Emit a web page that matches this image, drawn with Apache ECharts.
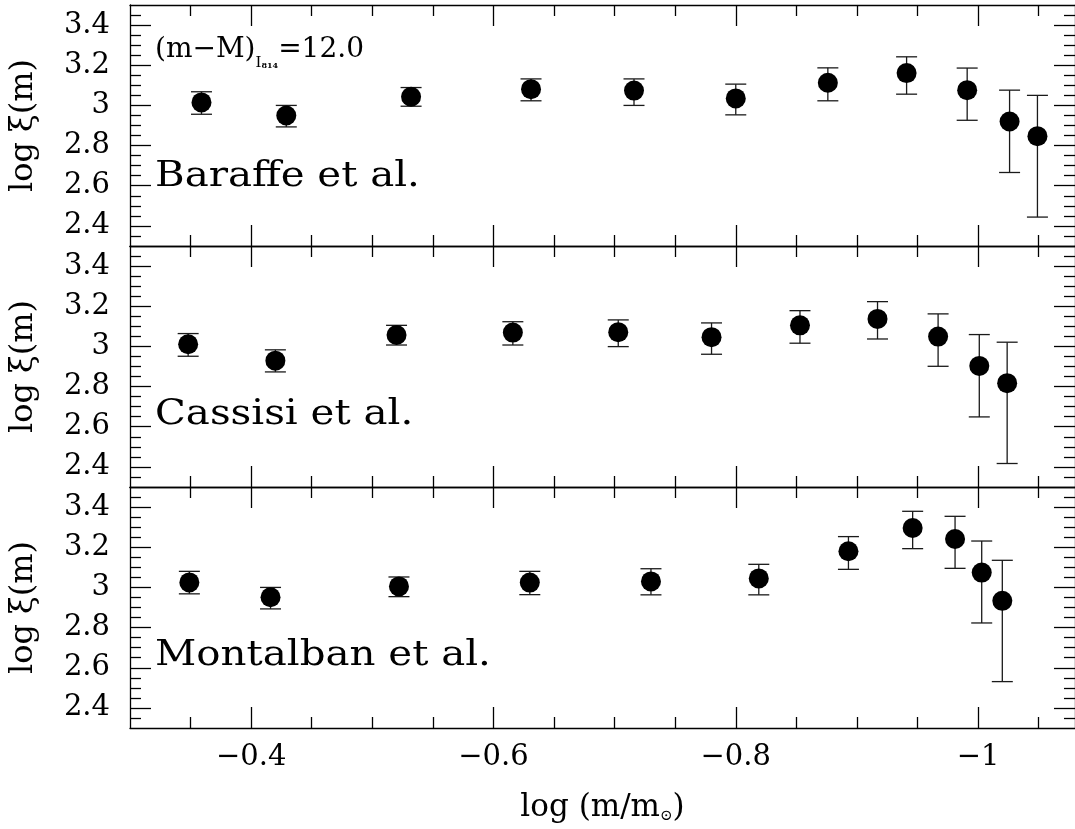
<!DOCTYPE html>
<html><head><meta charset="utf-8">
<script src="https://cdn.jsdelivr.net/npm/echarts@6.0.0/dist/echarts.min.js"></script>
<style>html,body{margin:0;padding:0;background:#fff;}#chart{width:1075px;height:829px;}</style>
</head><body><div id="chart"></div>
<script>
// ---- data ----
const panelNames = ['Baraffe et al.', 'Cassisi et al.', 'Montalban et al.'];

const xBaraffe  = [-0.359, -0.429, -0.532, -0.631, -0.716, -0.800, -0.876, -0.941, -0.991, -1.026, -1.049];
const yBaraffe  = [3.015, 2.950, 3.043, 3.081, 3.074, 3.035, 3.113, 3.161, 3.076, 2.920, 2.847];
const loBaraffe = [2.956, 2.893, 2.996, 3.023, 3.000, 2.953, 3.023, 3.056, 2.926, 2.666, 2.444];
const hiBaraffe = [3.068, 3.000, 3.089, 3.132, 3.132, 3.106, 3.187, 3.242, 3.186, 3.076, 3.050];

const xCassisi  = [-0.348, -0.420, -0.520, -0.616, -0.703, -0.780, -0.853, -0.917, -0.967, -1.001, -1.024];
const yCassisi  = [3.011, 2.929, 3.057, 3.069, 3.071, 3.046, 3.105, 3.137, 3.049, 2.903, 2.817];
const loCassisi = [2.951, 2.873, 3.007, 3.007, 2.999, 2.961, 3.016, 3.037, 2.901, 2.649, 2.417];
const hiCassisi = [3.064, 2.983, 3.105, 3.123, 3.132, 3.117, 3.178, 3.223, 3.162, 3.059, 3.021];

const xMontalban  = [-0.349, -0.416, -0.522, -0.630, -0.730, -0.819, -0.893, -0.946, -0.981, -1.003, -1.020];
const yMontalban  = [3.025, 2.951, 3.005, 3.024, 3.030, 3.045, 3.180, 3.296, 3.241, 3.074, 2.933];
const loMontalban = [2.968, 2.893, 2.954, 2.964, 2.963, 2.963, 3.090, 3.193, 3.095, 2.823, 2.531];
const hiMontalban = [3.080, 3.000, 3.052, 3.080, 3.093, 3.115, 3.253, 3.379, 3.354, 3.231, 3.135];

const xMajorTicks = [-0.4, -0.6, -0.8, -1];
const xMinorTicks = [-0.35, -0.45, -0.5, -0.55, -0.65, -0.7, -0.75, -0.85, -0.9, -0.95, -1.05];
const yMajorTicks = [2.4, 2.6, 2.8, 3, 3.2, 3.4];
const yMinorTicks = [2.35, 2.45, 2.5, 2.55, 2.65, 2.7, 2.75, 2.85, 2.9, 2.95, 3.05, 3.1, 3.15, 3.25, 3.3, 3.35, 3.45];

const X_MIN = -1.08, X_MAX = -0.3, Y_MIN = 2.3, Y_MAX = 3.5;

// ---- chart ----
const FONT = '"DejaVu Serif", serif';
const INK = '#000';
const fmt = v => String(+(+v).toFixed(2)).replace('-', '\u2212');

const panels = [
  { x: xBaraffe, y: yBaraffe, lo: loBaraffe, hi: hiBaraffe },
  { x: xCassisi, y: yCassisi, lo: loCassisi, hi: hiCassisi },
  { x: xMontalban, y: yMontalban, lo: loMontalban, hi: hiMontalban }
];

const gridTops = [5, 246, 487];
const gridH = 241;
const lineSt = { color: INK, width: 1.3 };

const grids = gridTops.map(t => ({ left: 129, top: t, width: 952, height: gridH }));

const xAxes = [], yAxes = [];
panels.forEach((p, i) => {
  const bx = { type: 'value', gridIndex: i, min: X_MIN, max: X_MAX, inverse: true,
    splitLine: { show: false }, axisLine: { show: true, onZero: false, lineStyle: lineSt } };
  xAxes.push(Object.assign({}, bx, {
    position: 'bottom',
    axisTick: { show: true, inside: true, length: 21, customValues: xMajorTicks, lineStyle: lineSt },
    axisLabel: { show: i === 2, customValues: xMajorTicks, formatter: fmt, margin: 15,
      fontFamily: FONT, fontSize: 29, color: INK },
    name: i === 2 ? '{a|log (m/m}{s|\u2299}{a|)}' : '',
    nameLocation: 'middle', nameGap: 63,
    nameTextStyle: { rich: {
      a: { fontFamily: FONT, fontSize: 31, color: INK },
      s: { fontFamily: FONT, fontSize: 15, color: INK, padding: [18, 0, 0, 0] } } }
  }));
  xAxes.push(Object.assign({}, bx, { position: 'bottom', axisLine: { show: false },
    axisTick: { show: true, inside: true, length: 11, customValues: xMinorTicks, lineStyle: lineSt },
    axisLabel: { show: false } }));
  xAxes.push(Object.assign({}, bx, { position: 'top',
    axisTick: { show: true, inside: true, length: 21, customValues: xMajorTicks, lineStyle: lineSt },
    axisLabel: { show: false } }));
  xAxes.push(Object.assign({}, bx, { position: 'top', axisLine: { show: false },
    axisTick: { show: true, inside: true, length: 11, customValues: xMinorTicks, lineStyle: lineSt },
    axisLabel: { show: false } }));

  const by = { type: 'value', gridIndex: i, min: Y_MIN, max: Y_MAX,
    splitLine: { show: false }, axisLine: { show: true, onZero: false, lineStyle: lineSt } };
  yAxes.push(Object.assign({}, by, { position: 'left',
    axisTick: { show: true, inside: true, length: 21, customValues: yMajorTicks, lineStyle: lineSt },
    axisLabel: { show: true, customValues: yMajorTicks, formatter: fmt, margin: 20,
      fontFamily: FONT, fontSize: 29, color: INK },
    name: 'log \u03BE(m)', nameLocation: 'middle', nameRotate: 90, nameGap: 90,
    nameTextStyle: { fontFamily: FONT, fontSize: 32, color: INK } }));
  yAxes.push(Object.assign({}, by, { position: 'left', axisLine: { show: false },
    axisTick: { show: true, inside: true, length: 11, customValues: yMinorTicks, lineStyle: lineSt },
    axisLabel: { show: false } }));
  yAxes.push(Object.assign({}, by, { position: 'right',
    axisTick: { show: true, inside: true, length: 21, customValues: yMajorTicks, lineStyle: lineSt },
    axisLabel: { show: false } }));
  yAxes.push(Object.assign({}, by, { position: 'right', axisLine: { show: false },
    axisTick: { show: true, inside: true, length: 11, customValues: yMinorTicks, lineStyle: lineSt },
    axisLabel: { show: false } }));
});

function renderErr(params, api) {
  const x = api.value(0), lo = api.value(1), hi = api.value(2);
  const pLo = api.coord([x, lo]), pHi = api.coord([x, hi]);
  const w = 10.5;
  const style = { stroke: '#1a1a1a', lineWidth: 1.3 };
  return { type: 'group', children: [
    { type: 'line', shape: { x1: pLo[0], y1: pLo[1], x2: pHi[0], y2: pHi[1] }, style },
    { type: 'line', shape: { x1: pLo[0] - w, y1: pLo[1], x2: pLo[0] + w, y2: pLo[1] }, style },
    { type: 'line', shape: { x1: pHi[0] - w, y1: pHi[1], x2: pHi[0] + w, y2: pHi[1] }, style }
  ] };
}

const series = [];
panels.forEach((p, i) => {
  series.push({ type: 'custom', name: panelNames[i] + ' err', xAxisIndex: 4 * i, yAxisIndex: 4 * i,
    renderItem: renderErr, encode: { x: 0, y: [1, 2] }, silent: true,
    data: p.x.map((x, k) => [x, p.lo[k], p.hi[k]]) });
  series.push({ type: 'scatter', name: panelNames[i], xAxisIndex: 4 * i, yAxisIndex: 4 * i,
    symbol: 'circle', symbolSize: 20, itemStyle: { color: INK, opacity: 1 }, z: 5, silent: true,
    data: p.x.map((x, k) => [x, p.y[k]]) });
});

const labelY = [177, 415, 656];
const graphic = panelNames.map((n, i) => ({
  type: 'text', x: 155, y: labelY[i], scaleX: 1.12, silent: true,
  style: { text: n, fontFamily: FONT, fontSize: 36, fill: INK, align: 'left', verticalAlign: 'middle' }
}));
graphic.push({
  type: 'text', x: 155, y: 50, silent: true,
  style: {
    text: '{a|(m\u2212M)}{s|I}{t|814}{a|=12.0}', align: 'left', verticalAlign: 'middle',
    rich: {
      a: { fontFamily: FONT, fontSize: 28, fill: INK },
      s: { fontFamily: FONT, fontSize: 15, fill: INK, padding: [26, 0, 0, 0] },
      t: { fontFamily: FONT, fontSize: 8, fontWeight: 'bold', fill: INK, padding: [32, 0, 0, 0] }
    }
  }
});

const chart = echarts.init(document.getElementById('chart'), null, { renderer: 'canvas' });
chart.setOption({
  backgroundColor: '#fff',
  animation: false,
  grid: grids,
  xAxis: xAxes,
  yAxis: yAxes,
  series: series,
  graphic: graphic
});
</script>
</body></html>
